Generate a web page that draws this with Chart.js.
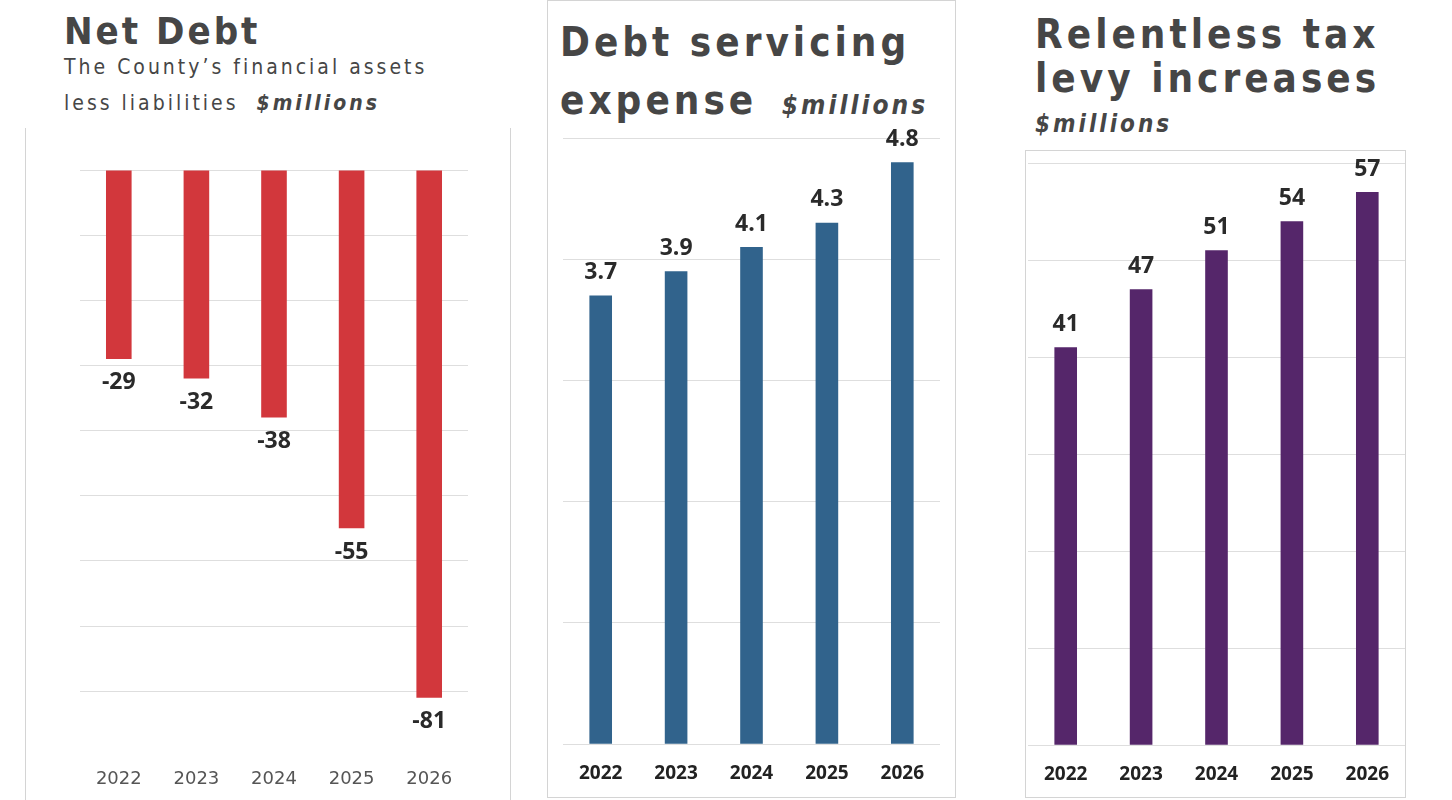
<!DOCTYPE html>
<html><head><meta charset="utf-8">
<script src="https://cdn.jsdelivr.net/npm/chart.js@4"></script>
<style>
body{margin:0;width:1452px;height:800px;background:#fff;position:relative;overflow:hidden;font-family:"DejaVu Sans Condensed","DejaVu Sans",sans-serif;}
.t{position:absolute;color:#464646;font-weight:bold;white-space:nowrap;line-height:1;}
.s{position:absolute;color:#464646;white-space:nowrap;line-height:1;letter-spacing:3px;font-size:21px;}
.m{font-style:italic;font-weight:bold;}
canvas{position:absolute;}
.box{position:absolute;border:1px solid #d4d4d4;box-sizing:border-box;}
</style></head><body>
<div class="box" style="left:25px;top:128px;width:486px;height:680px;border-top:none;border-bottom:none"></div>
<div class="box" style="left:547px;top:0;width:409px;height:798px"></div>
<div class="box" style="left:1025px;top:150px;width:381px;height:648px"></div>
<div class="t" style="left:64px;top:12px;font-size:38px;letter-spacing:3px">Net Debt</div>
<div class="s" style="left:64px;top:57px">The County’s financial assets</div>
<div class="s" style="left:64px;top:93px">less liabilities &nbsp;<span class="m">$millions</span></div>
<div class="t" style="left:560px;top:22px;font-size:40px;letter-spacing:4px">Debt servicing</div>
<div class="t" style="left:560px;top:80px;font-size:40px;letter-spacing:4px">expense <span class="m" style="font-size:26px;letter-spacing:3px;margin-left:8px">$millions</span></div>
<div class="t" style="left:1035px;top:14px;font-size:40px;letter-spacing:4px">Relentless tax</div>
<div class="t" style="left:1035px;top:58px;font-size:40px;letter-spacing:4px">levy increases</div>
<div class="t m" style="left:1035px;top:112px;font-size:24px;letter-spacing:3px">$millions</div>
<canvas id="c1" style="left:25px;top:130px;width:485px;height:670px"></canvas>
<canvas id="c2" style="left:548px;top:1px;width:406px;height:795px"></canvas>
<canvas id="c3" style="left:1026px;top:151px;width:379px;height:646px"></canvas>
<script>
const years = ["2022", "2023", "2024", "2025", "2026"];
const netDebt = [-29, -32, -38, -55, -81];
const debtService = [3.7, 3.9, 4.1, 4.3, 4.8];
const taxLevy = [41, 47, 51, 54, 57];

const labelPlugin = {
  id: "vals",
  afterDatasetsDraw(chart) {
    const ctx = chart.ctx;
    const meta = chart.getDatasetMeta(0);
    const data = chart.data.datasets[0].data;
    ctx.save();
    ctx.font = "bold 23px 'Open Sans', sans-serif";
    ctx.fillStyle = "#2a2a2a";
    ctx.textAlign = "center";
    ctx.textBaseline = "middle";
    meta.data.forEach((bar, i) => {
      const v = data[i];
      const y = v < 0 ? bar.y + 24 : bar.y - 23;
      ctx.fillText(String(v), bar.x, y);
    });
    ctx.restore();
  }
};

function makeChart(id, values, color, yMin, yMax, step, pad, xFont, barPct, hideVal) {
  return new Chart(document.getElementById(id), {
    type: "bar",
    data: { labels: years, datasets: [{ data: values, backgroundColor: color,
      barPercentage: barPct, categoryPercentage: 1 }] },
    options: {
      responsive: false, animation: false,
      layout: { padding: pad },
      plugins: { legend: { display: false }, tooltip: { enabled: false } },
      scales: {
        x: { grid: { display: false }, border: { display: false },
          ticks: { color: xFont.color, font: xFont.font, padding: xFont.pad } },
        y: { min: yMin, max: yMax, border: { display: false },
          ticks: { display: false, stepSize: step },
          grid: { color: c => c.tick.value === hideVal ? "rgba(0,0,0,0)" : "#dedede", drawTicks: false } }
      }
    },
    plugins: [labelPlugin]
  });
}

function size(id, w, h) { const c = document.getElementById(id); c.width = w; c.height = h; }
size("c1", 485, 670); size("c2", 406, 795); size("c3", 379, 646);

makeChart("c1", netDebt, "#d2373c", -90, 0, 10,
  { left: 55, right: 42, top: 40, bottom: 6 },
  { color: "#555", font: { size: 18, family: "'DejaVu Sans'" }, pad: 4 }, 0.33, -90);
makeChart("c2", debtService, "#31638c", 0, 5, 1,
  { left: 15, right: 14, top: 137, bottom: 1 },
  { color: "#222", font: { size: 19, weight: "bold", family: "'Open Sans'" }, pad: 10 }, 0.3, null);
makeChart("c3", taxLevy, "#55266a", 0, 60, 10,
  { left: 2, right: 0, top: 12, bottom: 1 },
  { color: "#222", font: { size: 19, weight: "bold", family: "'Open Sans'" }, pad: 10 }, 0.3, null);
</script>
</body></html>
